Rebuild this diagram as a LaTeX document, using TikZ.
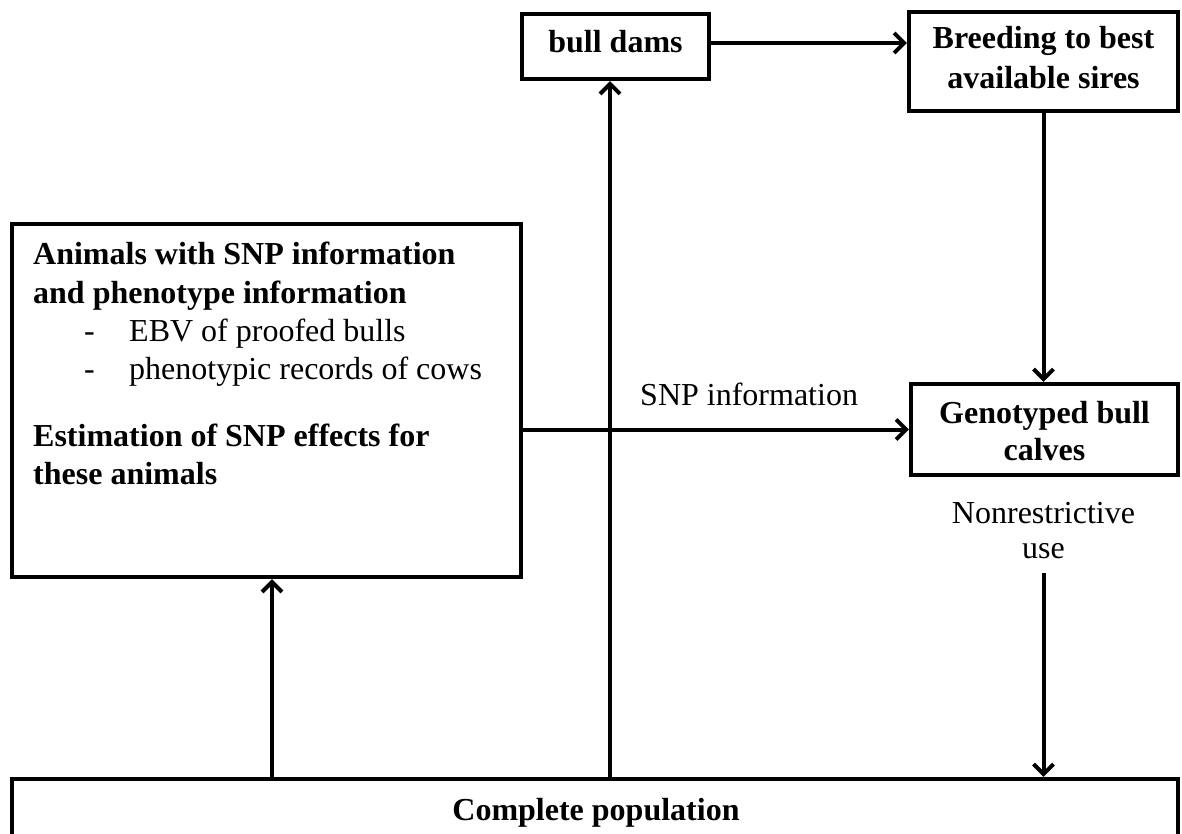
\documentclass[tikz,border=0pt]{standalone}
\usepackage{fontspec}
\setmainfont{Liberation Serif}
\usetikzlibrary{arrows.meta}
\begin{document}
\begin{tikzpicture}[x=1pt,y=-1pt,
  every node/.style={font=\fontsize{32}{38}\selectfont, inner sep=0pt},
  box/.style={draw, line width=4.2pt, rectangle, inner sep=0pt},
  lbl/.style={anchor=base west},
  clbl/.style={anchor=base},
  arr/.style={draw, line width=4pt, -{Straight Barb[length=10pt,width=20pt,line width=4pt]}}]
\useasboundingbox (0,0) rectangle (1182,834);
\clip (0,0) rectangle (1182,834);
% boxes
\node[box, minimum width=187pt, minimum height=65pt] (bulldams) at (615.5,46.5) {};
\node[box, minimum width=269pt, minimum height=99pt] (breeding) at (1043.5,61.5) {};
\node[box, minimum width=267pt, minimum height=91pt] (geno) at (1044.5,429.5) {};
\node[box, minimum width=509pt, minimum height=353pt] (animals) at (266.5,400.5) {};
\node[box, minimum width=1166pt, minimum height=121pt] (pop) at (595,839.5) {};
% box texts
\node[clbl] (tbulldams) at (615.5,53) {\bfseries bull dams};
\node[clbl] (tbreed1) at (1043.5,49) {\bfseries Breeding to best};
\node[clbl] (tbreed2) at (1043.5,89) {\bfseries available sires};
\node[clbl] (tgeno1) at (1044.5,423) {\bfseries Genotyped bull};
\node[clbl] (tgeno2) at (1044.5,460) {\bfseries calves};
\node[lbl] (tan1) at (33,265) {\bfseries Animals with SNP information};
\node[lbl] (tan2) at (33,303) {\bfseries and phenotype information};
\node[lbl] (dash1) at (84,341) {-};
\node[lbl] (tan3) at (129,341) {EBV of proofed bulls};
\node[lbl] (dash2) at (84,379) {-};
\node[lbl] (tan4) at (129,379) {phenotypic records of cows};
\node[lbl] (tan5) at (33,446) {\bfseries Estimation of SNP effects for};
\node[lbl] (tan6) at (33,484) {\bfseries these animals};
\node[clbl] (tpop) at (596,820) {\bfseries Complete population};
% free labels
\node[lbl] (snplbl) at (640,405) {SNP information};
\node[clbl] (nonres) at (1043.5,523) {Nonrestrictive};
\node[clbl] (use) at (1043.5,558) {use};
\coordinate (nrstart) at (1043.5,573);
% connectors
\draw[arr] (bulldams.east |- 0,43) -- (breeding.west |- 0,43);
\draw[arr] (breeding.south) -- (breeding.south |- geno.north);
\draw[arr] (animals.east |- geno.west) -- (geno.west);
\draw[arr] ([xshift=5.5pt]animals.south |- pop.north) -- ([xshift=5.5pt]animals.south);
\draw[arr] ([xshift=-5.5pt]bulldams.south |- pop.north) -- ([xshift=-5.5pt]bulldams.south);
\draw[arr] (nrstart) -- (nrstart |- pop.north);
\end{tikzpicture}
\end{document}
